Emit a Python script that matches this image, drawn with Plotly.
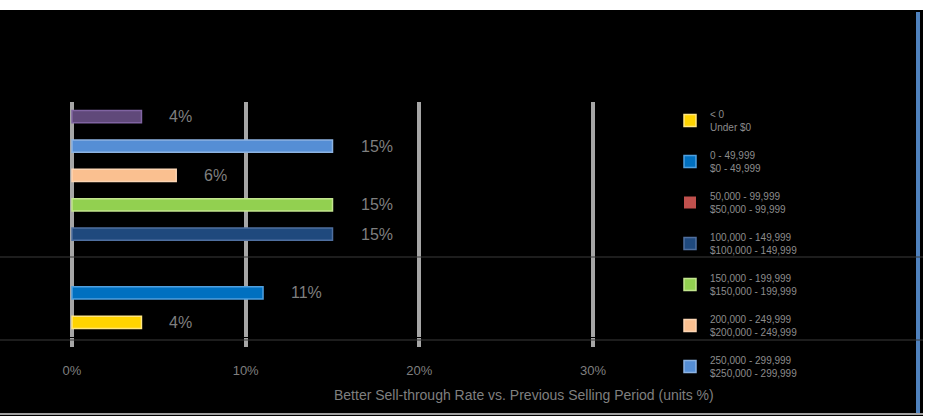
import plotly.graph_objects as go

W, H = 934, 416

# ---- data (top row first in the picture) ----
categories = ["G8", "G7", "G6", "G5", "G4", "G3", "G2", "G1"]
values = [4, 15, 6, 15, 15, 0, 11, 4]
series_names = [
    "300,000 - 499,999<br>(500,000+)",
    "250,000 - 299,999<br>$250,000 - 299,999",
    "200,000 - 249,999<br>$200,000 - 249,999",
    "150,000 - 199,999<br>$150,000 - 199,999",
    "100,000 - 149,999<br>$100,000 - 149,999",
    "50,000 - 99,999<br>$50,000 - 99,999",
    "0 - 49,999<br>$0 - 49,999",
    "< 0<br>Under $0",
]
colors = ["#60497a", "#558ed5", "#fac090", "#92d050", "#1f497d", "#c0504d", "#0070c0", "#ffd400"]
edge_colors = ["#8064a2", "#8db3e2", "#fcd5b4", "#c3e58f", "#4f6f9f", "#e08080", "#4fa0e0", "#ffe680"]
tick_vals = [0, 10, 20, 30]
tick_text = ["0%", "10%", "20%", "30%"]
x_title = "Better Sell-through Rate vs. Previous Selling Period (units %)"

px_per = (593 - 72) / 30.0
x_lo, x_hi = -1.0, 35.0
dom_x0 = (72 + x_lo * px_per) / W
dom_x1 = (72 + x_hi * px_per) / W
plot_top, plot_bot = 102, 337

fig = go.Figure()
# legend order: bottom bar first
order = list(range(len(categories)))[::-1]
for rank, i in enumerate(order):
    fig.add_trace(go.Bar(
        y=[categories[i]], x=[values[i]], orientation="h",
        name=series_names[i],
        marker=dict(color=colors[i],
                    line=dict(color=edge_colors[i], width=1.5 if values[i] > 0 else 0)),
        width=0.42,
        legendgroup=f"g{rank}", legendrank=rank,
        showlegend=(i != 0),
        hoverinfo="skip",
    ))
    if values[i] > 0:
        fig.add_annotation(
            x=values[i], y=categories[i], xref="x", yref="y",
            text=f"{values[i]}%", showarrow=False, xanchor="left",
            xshift=26, font=dict(family="Liberation Sans", size=16, color="#7f7f7f"),
        )

fig.add_annotation(
    x=524 / W, y=1 - 395 / H, xref="paper", yref="paper",
    text=x_title, showarrow=False, xanchor="center", yanchor="middle",
    font=dict(family="Liberation Sans", size=14, color="#7f7f7f"),
)

shapes = [
    # black canvas, white top/right border
    dict(type="rect", xref="paper", yref="paper", x0=0, x1=923 / W, y0=0, y1=1 - 10 / H,
         fillcolor="black", line=dict(width=0), layer="below"),
    # blue right rule
    dict(type="line", xref="paper", yref="paper", x0=918 / W, x1=918 / W,
         y0=1 - 415 / H, y1=1 - 12 / H, line=dict(color="#4f81bd", width=4)),
    # bottom gray rule
    dict(type="line", xref="paper", yref="paper", x0=0, x1=923 / W,
         y0=1 - 414 / H, y1=1 - 414 / H, line=dict(color="#a0a0a0", width=2)),
    # horizontal seams
    dict(type="line", xref="paper", yref="paper", x0=0, x1=923 / W,
         y0=1 - 257 / H, y1=1 - 257 / H, line=dict(color="#3a3a3a", width=1)),
    dict(type="line", xref="paper", yref="paper", x0=0, x1=923 / W,
         y0=1 - 340 / H, y1=1 - 340 / H, line=dict(color="#3a3a3a", width=1)),
]

fig.update_layout(
    width=W, height=H,
    margin=dict(l=0, r=0, t=0, b=0),
    paper_bgcolor="white", plot_bgcolor="black",
    barmode="overlay",
    font=dict(family="Liberation Sans", color="#7f7f7f"),
    shapes=shapes,
    showlegend=True,
    legend=dict(
        x=670 / W, y=1 - 101 / H, xanchor="left", yanchor="top",
        bgcolor="rgba(0,0,0,0)", font=dict(size=10, color="#8c8c8c"),
        traceorder="grouped", tracegroupgap=12, itemwidth=30,
    ),
    xaxis=dict(
        domain=[dom_x0, dom_x1], range=[x_lo, x_hi],
        tickvals=tick_vals, ticktext=tick_text,
        showgrid=True, gridcolor="#a6a6a6", gridwidth=4,
        zeroline=False, showline=False,
        ticks="outside", ticklen=9, tickwidth=4, tickcolor="#a6a6a6",
        ticklabelstandoff=12,
        tickfont=dict(size=13, color="#7f7f7f"),
        fixedrange=True,
    ),
    yaxis=dict(
        domain=[1 - plot_bot / H, 1 - plot_top / H],
        categoryorder="array", categoryarray=categories[::-1],
        showticklabels=False, showgrid=False, zeroline=False, ticks="",
        fixedrange=True,
    ),
)

fig.write_html("out.html")
